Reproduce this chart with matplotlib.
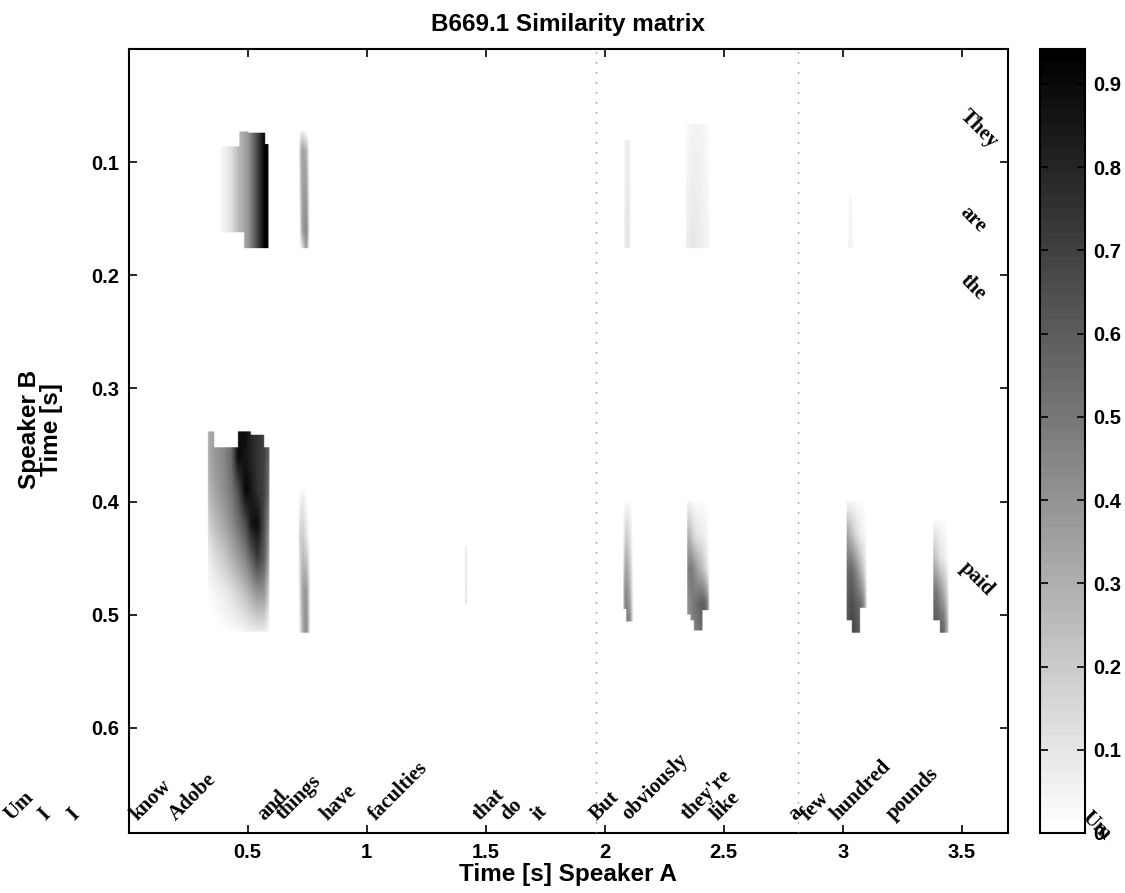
import numpy as np
import matplotlib
matplotlib.use('Agg')
import matplotlib.pyplot as plt
from matplotlib.colors import ListedColormap

# ---------------- data ----------------
title = 'B669.1 Similarity matrix'
x_label = 'Time [s] Speaker A'
y_label = 'Speaker B\nTime [s]'
x_max = 3.693
y_max = 0.693
v_max = 0.942

x_ticks = [0.5, 1, 1.5, 2, 2.5, 3, 3.5]
x_tick_labels = ['0.5', '1', '1.5', '2', '2.5', '3', '3.5']
y_ticks = [0.1, 0.2, 0.3, 0.4, 0.5, 0.6]
y_tick_labels = ['0.1', '0.2', '0.3', '0.4', '0.5', '0.6']
cb_ticks = [0, 0.1, 0.2, 0.3, 0.4, 0.5, 0.6, 0.7, 0.8, 0.9]
cb_tick_labels = ['0', '0.1', '0.2', '0.3', '0.4', '0.5', '0.6', '0.7', '0.8', '0.9']

# speaker A words (start times along x)
words_a = ['Um', 'I', 'I', 'know', 'Adobe', 'and', 'things', 'have', 'faculties',
           'that', 'do', 'it', 'But', 'obviously', "they're", 'like', 'a', 'few',
           'hundred', 'pounds']
words_a_x = [-0.491, -0.351, -0.229, 0.035, 0.198, 0.572, 0.648, 0.836, 1.038,
             1.473, 1.592, 1.720, 1.968, 2.099, 2.351, 2.473, 2.800, 2.854,
             2.980, 3.211]
words_a_y = 0.682

# speaker B words (start times along y)
words_b = ['They', 'are', 'the', 'paid', 'Um']
words_b_x = [3.49, 3.49, 3.49, 3.49, 4.005]
words_b_y = [0.060, 0.145, 0.205, 0.459, 0.680]

# turn boundaries (dotted lines)
turn_lines = [1.965, 2.81]

# similarity blobs: control columns (xs), control rows (ys), values (rows x cols),
# top / bottom edge of each column interval
blob_a_xs = [0.373, 0.40, 0.43, 0.464, 0.484, 0.502, 0.53, 0.555, 0.572, 0.586]
blob_a_ys = [0.073, 0.176]
blob_a_v = [[0.0, 0.06, 0.12, 0.28, 0.33, 0.40, 0.60, 0.80, 0.94, 0.94],
            [0.0, 0.06, 0.12, 0.28, 0.33, 0.40, 0.60, 0.80, 0.94, 0.94]]
blob_a_top = [0.086, 0.086, 0.086, 0.073, 0.073, 0.074, 0.074, 0.074, 0.084]
blob_a_bot = [0.162, 0.162, 0.162, 0.162, 0.176, 0.176, 0.176, 0.176, 0.176]

blob_t1_xs = [0.716, 0.728, 0.745, 0.758]
blob_t1_ys = [0.073, 0.09, 0.16, 0.176]
blob_t1_v = [[0.0, 0.10, 0.00, 0.0],
             [0.15, 0.35, 0.30, 0.0],
             [0.0, 0.35, 0.45, 0.10],
             [0.0, 0.10, 0.40, 0.0]]
blob_t1_top = [0.073, 0.073, 0.073]
blob_t1_bot = [0.176, 0.176, 0.176]

blob_f1_xs = [2.08, 2.095, 2.11]
blob_f1_ys = [0.08, 0.176]
blob_f1_v = [[0.03, 0.08, 0.02], [0.05, 0.12, 0.03]]
blob_f1_top = [0.08, 0.08]
blob_f1_bot = [0.176, 0.176]

blob_f2_xs = [2.34, 2.37, 2.40, 2.44]
blob_f2_ys = [0.066, 0.176]
blob_f2_v = [[0.02, 0.05, 0.05, 0.02], [0.06, 0.10, 0.08, 0.03]]
blob_f2_top = [0.066, 0.066, 0.066]
blob_f2_bot = [0.176, 0.176, 0.176]

blob_f3_xs = [3.02, 3.03, 3.045]
blob_f3_ys = [0.128, 0.176]
blob_f3_v = [[0.0, 0.04, 0.0], [0.02, 0.06, 0.02]]
blob_f3_top = [0.128, 0.128]
blob_f3_bot = [0.176, 0.176]

blob_b_xs = [0.332, 0.358, 0.40, 0.43, 0.459, 0.49, 0.513, 0.54, 0.568, 0.589]
blob_b_ys = [0.3385, 0.36, 0.39, 0.42, 0.45, 0.48, 0.515]
blob_b_v = [[0.30, 0.35, 0.42, 0.50, 0.88, 0.90, 0.80, 0.75, 0.70, 0.55],
            [0.30, 0.38, 0.45, 0.55, 0.90, 0.85, 0.80, 0.75, 0.70, 0.55],
            [0.25, 0.33, 0.42, 0.50, 0.65, 0.92, 0.85, 0.75, 0.70, 0.50],
            [0.15, 0.24, 0.33, 0.42, 0.52, 0.65, 0.85, 0.90, 0.65, 0.40],
            [0.06, 0.12, 0.20, 0.28, 0.36, 0.46, 0.58, 0.72, 0.60, 0.30],
            [0.02, 0.04, 0.08, 0.12, 0.18, 0.25, 0.32, 0.40, 0.40, 0.15],
            [0.00, 0.00, 0.01, 0.02, 0.03, 0.05, 0.07, 0.08, 0.08, 0.02]]
blob_b_top = [0.3385, 0.352, 0.352, 0.352, 0.3385, 0.3385, 0.341, 0.341, 0.352]
blob_b_bot = [0.505, 0.51, 0.515, 0.515, 0.515, 0.515, 0.515, 0.515, 0.515]

blob_t2_xs = [0.714, 0.73, 0.745, 0.76]
blob_t2_ys = [0.39, 0.43, 0.48, 0.516]
blob_t2_v = [[0.0, 0.05, 0.0, 0.0],
             [0.15, 0.20, 0.10, 0.0],
             [0.05, 0.35, 0.40, 0.10],
             [0.0, 0.30, 0.45, 0.10]]
blob_t2_top = [0.39, 0.39, 0.39]
blob_t2_bot = [0.516, 0.516, 0.516]

blob_l_xs = [1.41, 1.416, 1.422]
blob_l_ys = [0.44, 0.49]
blob_l_v = [[0.0, 0.12, 0.0], [0.0, 0.15, 0.0]]
blob_l_top = [0.44, 0.44]
blob_l_bot = [0.49, 0.49]

blob_c1_xs = [2.078, 2.09, 2.105, 2.118]
blob_c1_ys = [0.399, 0.44, 0.48, 0.506]
blob_c1_v = [[0.0, 0.02, 0.02, 0.0],
             [0.10, 0.25, 0.15, 0.0],
             [0.30, 0.45, 0.30, 0.05],
             [0.30, 0.50, 0.45, 0.10]]
blob_c1_top = [0.399, 0.399, 0.399]
blob_c1_bot = [0.495, 0.506, 0.506]

blob_c2_xs = [2.346, 2.36, 2.373, 2.39, 2.41, 2.425, 2.437]
blob_c2_ys = [0.40, 0.43, 0.46, 0.49, 0.514]
blob_c2_v = [[0.05, 0.05, 0.03, 0.02, 0.02, 0.02, 0.0],
             [0.30, 0.25, 0.15, 0.10, 0.08, 0.05, 0.02],
             [0.45, 0.50, 0.45, 0.35, 0.25, 0.15, 0.05],
             [0.40, 0.45, 0.50, 0.55, 0.60, 0.55, 0.30],
             [0.35, 0.40, 0.45, 0.50, 0.55, 0.55, 0.30]]
blob_c2_top = [0.40] * 6
blob_c2_bot = [0.50, 0.505, 0.514, 0.514, 0.496, 0.496]

blob_c3_xs = [3.017, 3.038, 3.055, 3.073, 3.086, 3.10]
blob_c3_ys = [0.399, 0.43, 0.46, 0.49, 0.516]
blob_c3_v = [[0.03, 0.03, 0.02, 0.02, 0.02, 0.0],
             [0.35, 0.25, 0.15, 0.08, 0.05, 0.02],
             [0.55, 0.55, 0.45, 0.30, 0.20, 0.05],
             [0.60, 0.65, 0.60, 0.55, 0.45, 0.15],
             [0.60, 0.70, 0.65, 0.60, 0.50, 0.20]]
blob_c3_top = [0.399] * 5
blob_c3_bot = [0.505, 0.516, 0.516, 0.494, 0.494]

blob_c4_xs = [3.381, 3.395, 3.409, 3.425, 3.444]
blob_c4_ys = [0.416, 0.45, 0.48, 0.505, 0.516]
blob_c4_v = [[0.02, 0.03, 0.02, 0.02, 0.0],
             [0.25, 0.20, 0.12, 0.08, 0.02],
             [0.50, 0.50, 0.40, 0.30, 0.10],
             [0.60, 0.60, 0.55, 0.50, 0.20],
             [0.60, 0.65, 0.60, 0.55, 0.20]]
blob_c4_top = [0.416] * 4
blob_c4_bot = [0.505, 0.505, 0.516, 0.516]

blobs = [
    (blob_a_xs, blob_a_ys, blob_a_v, blob_a_top, blob_a_bot),
    (blob_t1_xs, blob_t1_ys, blob_t1_v, blob_t1_top, blob_t1_bot),
    (blob_f1_xs, blob_f1_ys, blob_f1_v, blob_f1_top, blob_f1_bot),
    (blob_f2_xs, blob_f2_ys, blob_f2_v, blob_f2_top, blob_f2_bot),
    (blob_f3_xs, blob_f3_ys, blob_f3_v, blob_f3_top, blob_f3_bot),
    (blob_b_xs, blob_b_ys, blob_b_v, blob_b_top, blob_b_bot),
    (blob_t2_xs, blob_t2_ys, blob_t2_v, blob_t2_top, blob_t2_bot),
    (blob_l_xs, blob_l_ys, blob_l_v, blob_l_top, blob_l_bot),
    (blob_c1_xs, blob_c1_ys, blob_c1_v, blob_c1_top, blob_c1_bot),
    (blob_c2_xs, blob_c2_ys, blob_c2_v, blob_c2_top, blob_c2_bot),
    (blob_c3_xs, blob_c3_ys, blob_c3_v, blob_c3_top, blob_c3_bot),
    (blob_c4_xs, blob_c4_ys, blob_c4_v, blob_c4_top, blob_c4_bot),
]

# ---------------- build matrix ----------------
dx, dy = 0.002, 0.001
gx = np.arange(0, x_max, dx) + dx / 2
gy = np.arange(0, y_max, dy) + dy / 2
M = np.zeros((len(gy), len(gx)))
for xs, ys, vals, tops, bots in blobs:
    xs = np.asarray(xs); ys = np.asarray(ys); vals = np.asarray(vals, float)
    sel = np.where((gx >= xs[0]) & (gx <= xs[-1]))[0]
    if len(sel) == 0:
        continue
    cx = gx[sel]
    rows = np.array([np.interp(cx, xs, r) for r in vals])  # (nys, ncols)
    seg = np.clip(np.searchsorted(xs, cx, side='right') - 1, 0, len(tops) - 1)
    top = np.asarray(tops)[seg]
    bot = np.asarray(bots)[seg]
    for k, j in enumerate(sel):
        col = np.interp(gy, ys, rows[:, k])
        mask = (gy >= top[k]) & (gy <= bot[k])
        M[mask, j] = np.maximum(M[mask, j], col[mask])

# ---------------- plot ----------------
plt.rcParams['font.family'] = ['Liberation Sans', 'DejaVu Sans']
plt.rcParams['font.weight'] = 'bold'

fig = plt.figure(figsize=(11.25, 8.93), dpi=100)
ax = fig.add_axes([0.1144, 0.0672, 0.7813, 0.8779])
cax = fig.add_axes([0.9244, 0.0672, 0.040, 0.8779])

cmap = ListedColormap(plt.get_cmap('gray_r')(np.linspace(0, 1, 64)))
im = ax.imshow(M, extent=[0, x_max, y_max, 0], origin='upper', aspect='auto',
               cmap=cmap, vmin=0, vmax=v_max, interpolation='bilinear')
ax.set_xlim(0, x_max)
ax.set_ylim(y_max, 0)

for xl in turn_lines:
    ax.axvline(xl, color='#777777', lw=1.0, linestyle=(0, (0.9, 6.3)), zorder=3)

ax.set_xticks(x_ticks)
ax.set_xticklabels(x_tick_labels)
ax.set_yticks(y_ticks)
ax.set_yticklabels(y_tick_labels)
ax.tick_params(direction='in', length=6, width=1.2, top=True, right=True,
               labelsize=14.5, pad=7)
for s in ax.spines.values():
    s.set_linewidth(1.5)

ax.set_title(title, fontsize=17.5, fontweight='bold', pad=13)
ax.set_xlabel(x_label, fontsize=17.5, fontweight='bold', labelpad=1)
ax.set_ylabel(y_label, fontsize=17.5, fontweight='bold', linespacing=0.95)
ax.yaxis.set_label_coords(-0.075, 0.515)

word_font = dict(family='Liberation Serif', fontweight='bold', fontsize=15)
for w, x in zip(words_a, words_a_x):
    ax.text(x, words_a_y, w, rotation=45, rotation_mode='anchor', ha='left',
            va='baseline', clip_on=False, zorder=5, **word_font)
for w, x, y in zip(words_b, words_b_x, words_b_y):
    ax.text(x, y, w, rotation=-45, rotation_mode='anchor', ha='left',
            va='baseline', clip_on=False, zorder=5, **word_font)

cb = fig.colorbar(im, cax=cax, ticks=cb_ticks)
cb.ax.set_yticklabels(cb_tick_labels)
cax.tick_params(direction='in', length=6, width=1.2, left=True, right=True,
                labelsize=14.5, pad=6)
cb.outline.set_linewidth(1.5)
cax.set_zorder(ax.get_zorder() + 1)

fig.savefig('out.png', dpi=100)
